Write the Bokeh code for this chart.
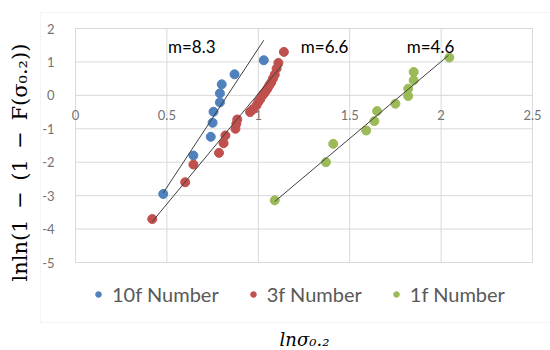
import math
from bokeh.plotting import figure
from bokeh.models import (Range1d, Legend, LegendItem, Label, BoxAnnotation,
                          ColumnDataSource)
from bokeh.core.properties import value
from bokeh.embed import file_html
from bokeh.resources import INLINE

# ---- data ----
x10 = [0.48, 0.645, 0.74, 0.75, 0.755, 0.79, 0.79, 0.80, 0.87, 1.03]
y10 = [-2.95, -1.80, -1.24, -0.82, -0.49, -0.21, 0.06, 0.33, 0.63, 1.05]

x3 = [0.42, 0.60, 0.645, 0.785, 0.81, 0.82, 0.875, 0.88, 0.885, 0.955, 0.97,
      0.99, 1.00, 1.01, 1.02, 1.03, 1.04, 1.05, 1.06, 1.07, 1.08, 1.09, 1.10,
      1.11, 1.14]
y3 = [-3.70, -2.60, -2.07, -1.72, -1.43, -1.20, -1.00, -0.85, -0.72, -0.50,
      -0.42, -0.30, -0.20, -0.12, -0.02, 0.05, 0.12, 0.20, 0.30, 0.38, 0.50,
      0.62, 0.80, 0.97, 1.30]

x1 = [1.09, 1.37, 1.41, 1.59, 1.635, 1.65, 1.75, 1.82, 1.82, 1.85, 1.85, 2.045]
y1 = [-3.14, -2.00, -1.45, -1.05, -0.77, -0.47, -0.25, -0.02, 0.20, 0.45, 0.70, 1.13]

series_names = ["10f Number", "3f Number", "1f Number"]
series_colors = ["#4f81bd", "#c0504d", "#9bbb59"]

trend_slope = [8.3, 6.6, 4.6]
trend_intercept = [-6.90, -6.55, -8.19]
trend_xmin = [0.48, 0.42, 1.09]
trend_xmax = [1.03, 1.13, 2.04]

label_text = ["m=8.3", "m=6.6", "m=4.6"]
label_x = [0.636, 1.363, 1.942]
label_y = [1.46, 1.46, 1.46]

x_ticks = [0, 0.5, 1, 1.5, 2, 2.5]
x_tick_labels = ["0", "0.5", "1", "1.5", "2", "2.5"]
y_ticks = [-5, -4, -3, -2, -1, 0, 1, 2]
y_tick_labels = ["-5", "-4", "-3", "-2", "-1", "0", "1", "2"]

y_title = "lnln(1\u2002\u2212\u2002(1\u2002\u2212\u2002F(\u03c3\u2080.\u2082))"
x_title = "ln\u03c3\u2080.\u2082"

# ---- layout (pixels) ----
W, H = 550, 350
PL, PR, PT, PB = 75, 532, 28, 262          # plot-area box
XMIN, XMAX = x_ticks[0], x_ticks[-1]
YMIN, YMAX = y_ticks[0], y_ticks[-1]
SX = (PR - PL) / (XMAX - XMIN)
SY = (PB - PT) / (YMAX - YMIN)


def px2x(px):
    return XMIN + (px - PL) / SX


def px2y(py):
    return YMAX - (py - PT) / SY


GRID = "#d9d9d9"
TICK = "#737373"
LEG = "#595959"

p = figure(width=W, height=H, output_backend="svg", toolbar_location=None,
           x_axis_type=None, y_axis_type=None,
           x_range=Range1d(px2x(0), px2x(W)), y_range=Range1d(px2y(H), px2y(0)),
           min_border=0)
p.min_border_left = p.min_border_right = 0
p.min_border_top = p.min_border_bottom = 0
p.outline_line_color = None
p.background_fill_color = "white"
p.border_fill_color = "white"

# chart border
p.add_layout(BoxAnnotation(left=px2x(40), right=px2x(W + 20), top=px2y(12),
                           bottom=px2y(322), fill_alpha=0, line_color=GRID,
                           line_width=1))

# gridlines (plot area)
p.segment(x0=x_ticks, y0=[YMIN] * len(x_ticks), x1=x_ticks,
          y1=[YMAX] * len(x_ticks), line_color=GRID, line_width=1)
p.segment(x0=[XMIN] * len(y_ticks), y0=y_ticks, x1=[XMAX] * len(y_ticks),
          y1=y_ticks, line_color=GRID, line_width=1)

# tick labels
p.text(x=x_ticks, y=[0] * len(x_ticks), text=x_tick_labels,
       text_font=value("Lato"), text_font_size="13px", text_color=TICK,
       text_align="center", text_baseline="middle", y_offset=20)
p.text(x=[XMIN] * len(y_ticks), y=y_ticks, text=y_tick_labels,
       text_font=value("Lato"), text_font_size="13px", text_color=TICK,
       text_align="right", text_baseline="middle", x_offset=-21)

# series
renderers = []
for xs, ys, c in zip([x10, x3, x1], [y10, y3, y1], series_colors):
    src = ColumnDataSource(dict(x=xs, y=ys))
    r = p.scatter("x", "y", source=src, size=9, fill_color=c, line_color=c)
    renderers.append(r)

# trend lines
for m, b, xa, xb in zip(trend_slope, trend_intercept, trend_xmin, trend_xmax):
    xs = [xa, xb]
    ys = [m * v + b for v in xs]
    p.line(xs, ys, line_color="#404040", line_width=1)

p.text(x=label_x, y=label_y, text=label_text, text_font=value("Lato"),
       text_font_size="17px", text_color="#000000", text_align="center",
       text_baseline="middle")

# axis titles
p.add_layout(Label(x=px2x(19), y=px2y(162), text=y_title, angle=math.pi / 2,
                   text_align="center", text_baseline="middle",
                   text_font="DejaVu Serif", text_font_size="21px",
                   text_color="#000000"))
p.add_layout(Label(x=px2x(304), y=px2y(349), text=x_title,
                   text_align="center", text_baseline="bottom",
                   text_font="DejaVu Serif", text_font_style="italic",
                   text_font_size="18px", text_color="#000000"))

# legend
legend = Legend(items=[LegendItem(label=n, renderers=[r])
                       for n, r in zip(series_names, renderers)],
                orientation="horizontal", location=(91, H - 306),
                border_line_color=None, background_fill_alpha=0,
                label_text_font="Lato", label_text_font_size="20px",
                label_text_color=LEG, glyph_width=14, glyph_height=14,
                label_standoff=7, spacing=27, padding=0, margin=0)
p.add_layout(legend, "center")

open("out.html", "w").write(file_html(p, INLINE))
